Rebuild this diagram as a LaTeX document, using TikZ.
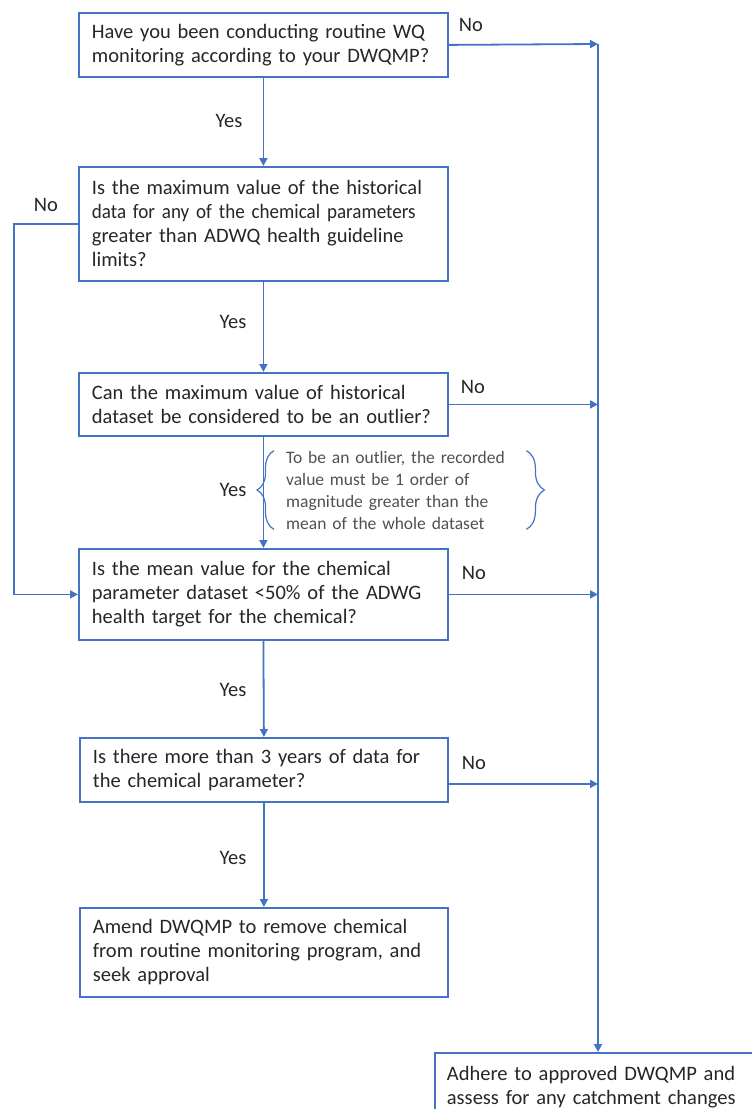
\documentclass[tikz,border=0pt]{standalone}
\usepackage{fontspec}
\setmainfont{Carlito}
\newfontfamily\squeezed[FakeStretch=0.93]{Carlito}
\usetikzlibrary{arrows.meta,decorations.pathreplacing}
\definecolor{lineblue}{HTML}{4472C4}
\definecolor{txtdark}{HTML}{262626}
\definecolor{txtnote}{HTML}{505050}
\begin{document}
\begin{tikzpicture}[x=1pt, y=-1pt,
        box/.style={draw=lineblue, line width=1.8pt, anchor=north west, align=left,
            text width=343pt, inner xsep=13pt, inner ysep=0pt, text=txtdark,
            font=\fontsize{20.5}{24}\selectfont},
        lbl/.style={text=txtdark, inner sep=0pt, font=\fontsize{20.5}{24}\selectfont},
        flow/.style={draw=lineblue, line width=1.8pt, -{Triangle[length=8pt,width=8pt]}},
        curly/.style={draw=lineblue, line width=1.2pt, decorate, decoration={brace, amplitude=#1}}]
    % Page frame
    \useasboundingbox (0,0) rectangle (752,1109);

    % Question boxes
    \node[box, minimum height=64pt] (q1) at (78,12)
        {Have you been conducting routine WQ\\monitoring according to your DWQMP?};
    \node[box, minimum height=114pt] (q2) at (78,166)
        {Is the maximum value of the historical\\{\squeezed data for any of the chemical parameters}\\greater than ADWQ health guideline\\limits?};
    \node[box, minimum height=63pt] (q3) at (78,372)
        {Can the maximum value of historical\\dataset be considered to be an outlier?};
    \node[box, minimum height=91pt] (q4) at (78,548)
        {Is the mean value for the chemical\\parameter dataset <50\% of the ADWG\\health target for the chemical?};
    \node[box, minimum height=64pt, text width=342pt] (q5) at (79,737)
        {Is there more than 3 years of data for\\the chemical parameter?};

    % Outcome boxes
    \node[box, minimum height=89pt, text width=342pt] (amend) at (79,907)
        {Amend DWQMP to remove chemical\\from routine monitoring program, and\\seek approval};
    \node[box, minimum height=68pt, text width=360pt, inner xsep=12pt] (adhere) at (434,1052)
        {Adhere to approved DWQMP and\\assess for any catchment changes};

    % Outlier note with braces
    \node[anchor=west, align=left, text width=232pt, inner xsep=12pt, inner ysep=0pt,
        text=txtnote, font=\fontsize{17.5}{22}\selectfont] (note) at (274,490)
        {To be an outlier, the recorded\\value must be 1 order of\\magnitude greater than the\\mean of the whole dataset};
    \draw[curly=17pt] (note.south west) -- (note.north west);
    \draw[curly=18pt] ([xshift=-4pt]note.north east) -- ([xshift=-4pt]note.south east);

    % Yes branches
    \draw[flow] (q1.south) -- (q2.north);
    \draw[flow] (q2.south) -- (q3.north);
    \draw[flow] (q3.south) -- (q4.north);
    \draw[flow] (q4.south) -- (q5.north);
    \draw[flow] (q5.south) -- (amend.north);
    \node[lbl] (yes1) at (229,121) {Yes};
    \node[lbl] (yes2) at (233,322) {Yes};
    \node[lbl] (yes3) at (233,490) {Yes};
    \node[lbl] (yes4) at (233,690) {Yes};
    \node[lbl] (yes5) at (233,858) {Yes};

    % No branches to the right-hand rail
    \coordinate (rail) at (598,44);
    \draw[flow] (q1.east) -- (rail);
    \draw[flow] (rail) -- (rail |- adhere.north);
    \draw[flow] (q3.east) -- (q3.east -| rail);
    \draw[flow] (q4.east) -- (q4.east -| rail);
    \draw[flow] ([yshift=-14pt]q5.east) -- ([yshift=-14pt]q5.east -| rail);
    \node[lbl] (no1) at (471,25) {No};
    \node[lbl] (no3) at (473,387) {No};
    \node[lbl] (no4) at (474,573) {No};
    \node[lbl] (no5) at (474,763) {No};

    % No branch on the left
    \draw[flow] (q2.west) -- ++(-64,0) |- (q4.west);
    \node[lbl] (no2) at (46,205) {No};
\end{tikzpicture}
\end{document}
